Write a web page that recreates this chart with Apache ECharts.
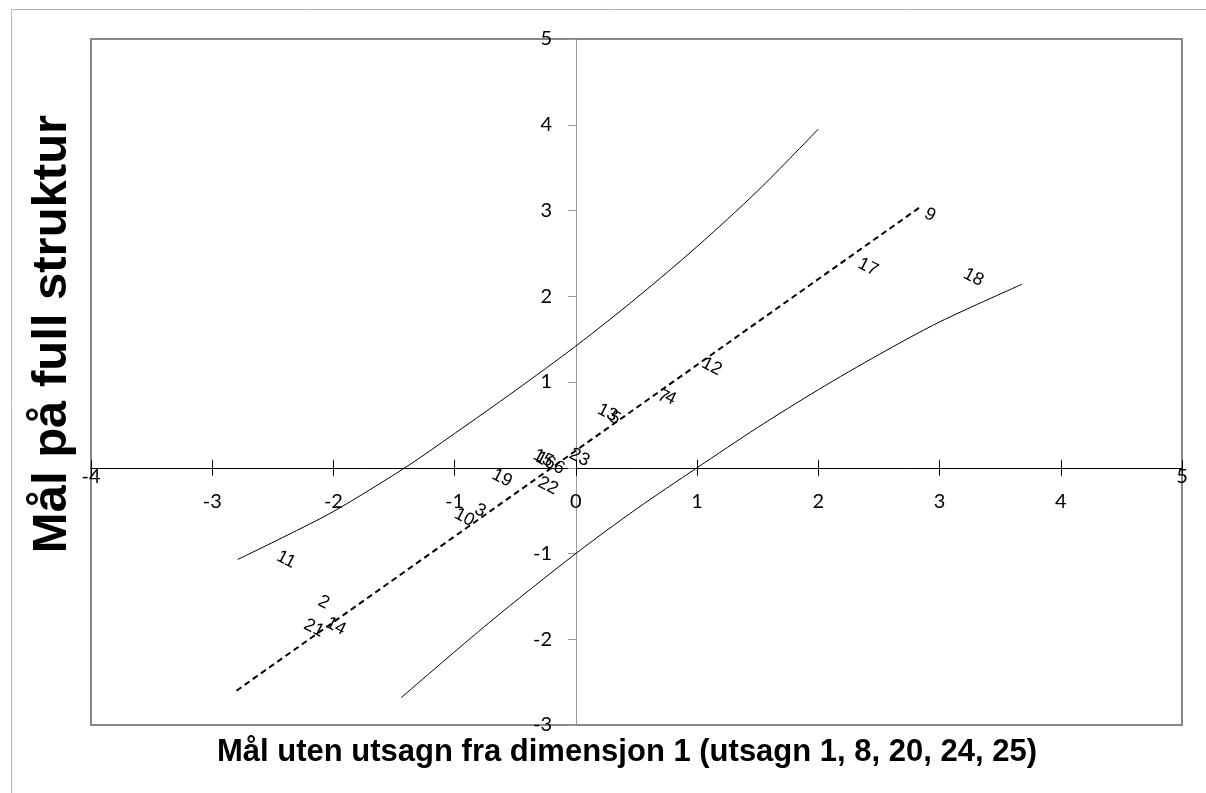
<!DOCTYPE html>
<html><head><meta charset="utf-8">
<script src="https://cdn.jsdelivr.net/npm/echarts@6/dist/echarts.min.js"></script>
<style>html,body{margin:0;padding:0;background:#fff}#chart{width:1206px;height:793px}</style>
</head><body><div id="chart"></div>
<script>
// Statement labels and their coordinates
const pointLabels = ['2','3','4','5','6','7','9','10','11','12','13','14','15','16','17','18','19','21','22','23'];
const pointX = [-2.08,-0.79,0.78,0.32,-0.14,0.72,2.92,-0.92,-2.39,1.12,0.26,-1.98,-0.27,-0.25,2.41,3.28,-0.61,-2.16,-0.23,0.03];
const pointY = [-1.57,-0.50,0.81,0.58,0.00,0.83,2.95,-0.58,-1.07,1.18,0.64,-1.85,0.11,0.08,2.34,2.22,-0.12,-1.87,-0.21,0.12];
// Fitted (dashed) line
const fitX = [-2.80, 2.84];
const fitY = [-2.60, 3.04];
// Upper band
const upperX = [-2.79,-2.4,-2.0,-1.41,-1.0,-0.5,0,0.5,1.0,1.5,2.0];
const upperY = [-1.07,-0.80,-0.51,0,0.40,0.90,1.42,1.98,2.58,3.23,3.95];
// Lower band
const lowerX = [-1.44,-0.71,0,0.5,1,1.5,2,2.5,3,3.68];
const lowerY = [-2.68,-1.80,-1.0,-0.48,0,0.47,0.91,1.32,1.70,2.14];
// Axes
const xMin = -4, xMax = 5, xStep = 1;
const yMin = -3, yMax = 5, yStep = 1;
const xTitle = 'Mål uten utsagn fra dimensjon 1 (utsagn 1, 8, 20, 24, 25)';
const yTitle = 'Mål på full struktur';

const zip = (a, b) => a.map((v, i) => [v, b[i]]);
const tickFont = 'Lato, "Open Sans", sans-serif';
const boldFont = '"Liberation Sans", Arial, sans-serif';

const chart = echarts.init(document.getElementById('chart'), null, {renderer: 'canvas'});
chart.setOption({
  animation: false,
  backgroundColor: '#fff',
  graphic: [{
    type: 'rect', silent: true, z: -10,
    shape: {x: 11.5, y: 9.5, width: 1400, height: 1000},
    style: {fill: 'none', stroke: '#b5b5b5', lineWidth: 1}
  }],
  grid: {left: 91, top: 39, right: 24, bottom: 68, show: true, borderColor: '#878787', borderWidth: 2,
         containLabel: false, outerBoundsMode: 'none'},
  xAxis: [{
    type: 'value', min: xMin, max: xMax, interval: xStep, position: 'bottom',
    axisLine: {show: true, onZero: true, onZeroAxisIndex: 0, lineStyle: {color: '#000', width: 1}},
    axisTick: {show: true, inside: false, length: 8, lineStyle: {color: '#000', width: 1}},
    axisLabel: {margin: -233, fontSize: 20, fontFamily: tickFont, color: '#000',
      formatter: v => (v === xMin || v === xMax) ? '' : String(v)},
    splitLine: {show: false},
    name: xTitle, nameLocation: 'middle', nameGap: 12,
    nameTextStyle: {fontSize: 31, fontWeight: 'bold', fontFamily: boldFont, color: '#000', padding: [0, 19, 0, 0]}
  }, {
    type: 'value', min: xMin, max: xMax, interval: xStep, position: 'bottom',
    axisLine: {show: true, onZero: true, onZeroAxisIndex: 0, lineStyle: {color: '#000', width: 1}},
    axisTick: {show: true, inside: true, length: 8, lineStyle: {color: '#000', width: 1}},
    axisLabel: {margin: -258, fontSize: 20, fontFamily: tickFont, color: '#000',
      formatter: v => (v === xMin || v === xMax) ? String(v) : ''},
    splitLine: {show: false}
  }],
  yAxis: {
    type: 'value', min: yMin, max: yMax, interval: yStep,
    axisLine: {show: true, onZero: true, lineStyle: {color: '#9a9a9a', width: 1}},
    axisTick: {show: true, inside: false, length: 8, lineStyle: {color: '#9a9a9a', width: 1}},
    axisLabel: {margin: -461, fontSize: 20, fontFamily: tickFont, color: '#000',
      formatter: v => v === 0 ? '' : String(v)},
    splitLine: {show: false},
    name: yTitle, nameLocation: 'middle', nameGap: 14, nameRotate: 90,
    nameTextStyle: {fontSize: 49, fontWeight: 'bold', fontFamily: boldFont, color: '#000', padding: [0, 0, 0, 96]}
  },
  series: [{
    type: 'line', name: 'upper', data: zip(upperX, upperY), smooth: 0.3, showSymbol: false,
    lineStyle: {color: '#000', width: 1}, z: 2
  }, {
    type: 'line', name: 'lower', data: zip(lowerX, lowerY), smooth: 0.3, showSymbol: false,
    lineStyle: {color: '#000', width: 1}, z: 2
  }, {
    type: 'line', name: 'fit', data: zip(fitX, fitY), showSymbol: false,
    lineStyle: {color: '#000', width: 2, type: [6, 4]}, z: 2
  }, {
    type: 'scatter', name: 'points',
    data: pointLabels.map((l, i) => [pointX[i], pointY[i], l]),
    symbol: 'circle', symbolSize: 1, itemStyle: {color: '#fff', opacity: 1},
    label: {show: true, position: 'inside', formatter: p => p.data[2], rotate: -27,
      fontSize: 18, fontFamily: boldFont, color: '#000', opacity: 1, textBorderWidth: 0},
    z: 3
  }]
});
</script></body></html>
